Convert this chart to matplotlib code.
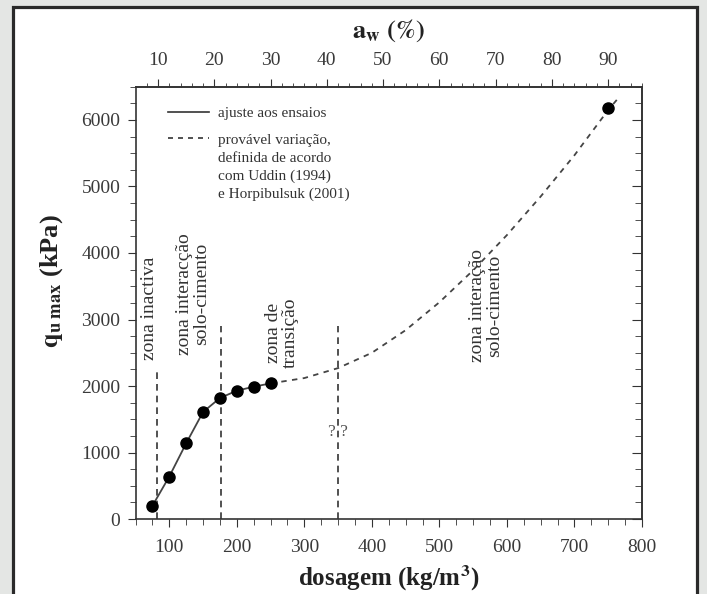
import matplotlib
matplotlib.use('Agg')
import matplotlib.pyplot as plt
from matplotlib.lines import Line2D
from matplotlib.patches import Rectangle
from matplotlib.ticker import MultipleLocator

plt.rcParams['font.family'] = ['Liberation Serif', 'DejaVu Serif']
plt.rcParams['mathtext.fontset'] = 'stix'

# ensaios (dosagem em kg/m3, qu max em kPa)
dosagem_ensaios = [75, 100, 125, 150, 175, 200, 225, 250]
qu_ensaios = [200, 640, 1140, 1610, 1820, 1930, 1990, 2040]
dosagem_ref = [750]
qu_ref = [6180]

# provavel variacao (Uddin 1994, Horpibulsuk 2001)
dosagem_prov = [250, 300, 350, 400, 450, 500, 550, 600, 650, 700, 750, 765]
qu_prov = [2040, 2120, 2270, 2500, 2840, 3260, 3740, 4270, 4850, 5470, 6150, 6330]

# limites das zonas
zonas_x = [82, 177, 350]
zonas_topo = [2250, 2900, 2900]

zonas_txt = ['zona inactiva', 'zona interacção\nsolo-cimento',
             'zona de\ntransição', 'zona interação\nsolo-cimento']
zonas_txt_x = [71, 135, 267, 569]
zonas_txt_y = [3170, 3380, 2800, 3210]

fator_aw = 8.33  # dosagem / a_w

cor = '#333333'

fig = plt.figure(figsize=(7.07, 5.94), dpi=100)
fig.patch.set_facecolor('#e4e6e4')
fig.patches.append(Rectangle((12.5 / 707, -0.05), 684 / 707, 1.05 - 7 / 594,
                             transform=fig.transFigure, facecolor='white',
                             edgecolor='#2a2a2a', linewidth=2.3, zorder=-10))

ax = fig.add_axes([0.1917, 0.1261, 0.7164, 0.728])
ax.set_facecolor('none')

ax.vlines(zonas_x, 0, zonas_topo, colors=cor, linestyles=(0, (4, 3)), linewidth=1.2)
ax.plot(dosagem_prov, qu_prov, color='#444444', linestyle=(0, (3, 3)), linewidth=1.3)
ax.plot(dosagem_ensaios, qu_ensaios, color='#444444', linewidth=1.3)
ax.plot(dosagem_ensaios + dosagem_ref, qu_ensaios + qu_ref, 'o', color='black',
        markersize=8, linestyle='none')

for tx, x, y in zip(zonas_txt, zonas_txt_x, zonas_txt_y):
    ax.text(x, y, tx, rotation=90, ha='center', va='center', multialignment='center',
            fontsize=14, color=cor, linespacing=1.0)
ax.text(350, 1310, '? ?', ha='center', va='center', fontsize=12.5, color='#555555')

ax.set_xlim(50, 800)
ax.set_ylim(0, 6500)
ax.xaxis.set_major_locator(MultipleLocator(100))
ax.xaxis.set_minor_locator(MultipleLocator(25))
ax.yaxis.set_major_locator(MultipleLocator(1000))
ax.yaxis.set_minor_locator(MultipleLocator(250))
ax.tick_params(which='both', direction='out', colors=cor, labelcolor='#3a3a3a',
               labelsize=14)
ax.tick_params(axis='x', which='major', length=6, pad=8)
ax.tick_params(axis='x', which='minor', length=4)
ax.tick_params(axis='y', which='major', length=6, pad=5)
ax.tick_params(axis='y', which='minor', length=4)
for s in ax.spines.values():
    s.set_color(cor)
    s.set_linewidth(1.2)

dir_ax = ax.secondary_yaxis('right')
dir_ax.yaxis.set_major_locator(MultipleLocator(1000))
dir_ax.yaxis.set_minor_locator(MultipleLocator(250))
dir_ax.tick_params(which='both', direction='in', colors=cor, labelright=False)
dir_ax.tick_params(which='major', length=7)
dir_ax.tick_params(which='minor', length=5)
dir_ax.spines['right'].set_color(cor)
dir_ax.spines['right'].set_linewidth(1.2)

top_ax = ax.secondary_xaxis('top', functions=(lambda d: d / fator_aw,
                                              lambda a: a * fator_aw))
top_ax.xaxis.set_major_locator(MultipleLocator(10))
top_ax.xaxis.set_minor_locator(MultipleLocator(2))
top_ax.tick_params(which='both', direction='out', colors=cor, labelcolor='#3a3a3a',
                   labelsize=14)
top_ax.tick_params(which='major', length=6, pad=7)
top_ax.tick_params(which='minor', length=3)
top_ax.spines['top'].set_color(cor)
top_ax.spines['top'].set_linewidth(1.2)
top_ax.set_xlabel(r'$\mathbf{a_w}$ $\mathbf{(\%)}$', fontsize=19, labelpad=10, color='#222222')

ax.set_xlabel(r'dosagem (kg/m$^\mathbf{3}$)', fontsize=18, fontweight='bold',
              labelpad=6, color='#222222')
ax.set_ylabel(r'$\mathbf{q_{u\ max}}$ (kPa)', fontsize=19, fontweight='bold',
              color='#222222')
ax.yaxis.set_label_coords(-0.14, 0.55)

h1 = [Line2D([], [], color='#333333', linewidth=1.2)]
leg1 = ax.legend(h1, ['ajuste aos ensaios'], loc='center left',
                 bbox_to_anchor=(0.064, 0.939), frameon=False, fontsize=11,
                 handlelength=2.7, handletextpad=0.6, borderpad=0, borderaxespad=0,
                 labelcolor='#333333')
ax.add_artist(leg1)

h2 = [Line2D([], [], color='#333333', linewidth=1.2, linestyle=(0, (3, 3)))]
h2 += [Line2D([], [], linestyle='none') for _ in range(3)]
leg2 = ax.legend(h2, ['provável variação,', 'definida de acordo',
                      'com Uddin (1994)', 'e Horpibulsuk (2001)'],
                 loc='center left', bbox_to_anchor=(0.064, 0.814), frameon=False,
                 fontsize=11, handlelength=2.7, handletextpad=0.6, borderpad=0,
                 borderaxespad=0, labelspacing=0.28, labelcolor='#333333')

fig.savefig('out.png', dpi=100)
